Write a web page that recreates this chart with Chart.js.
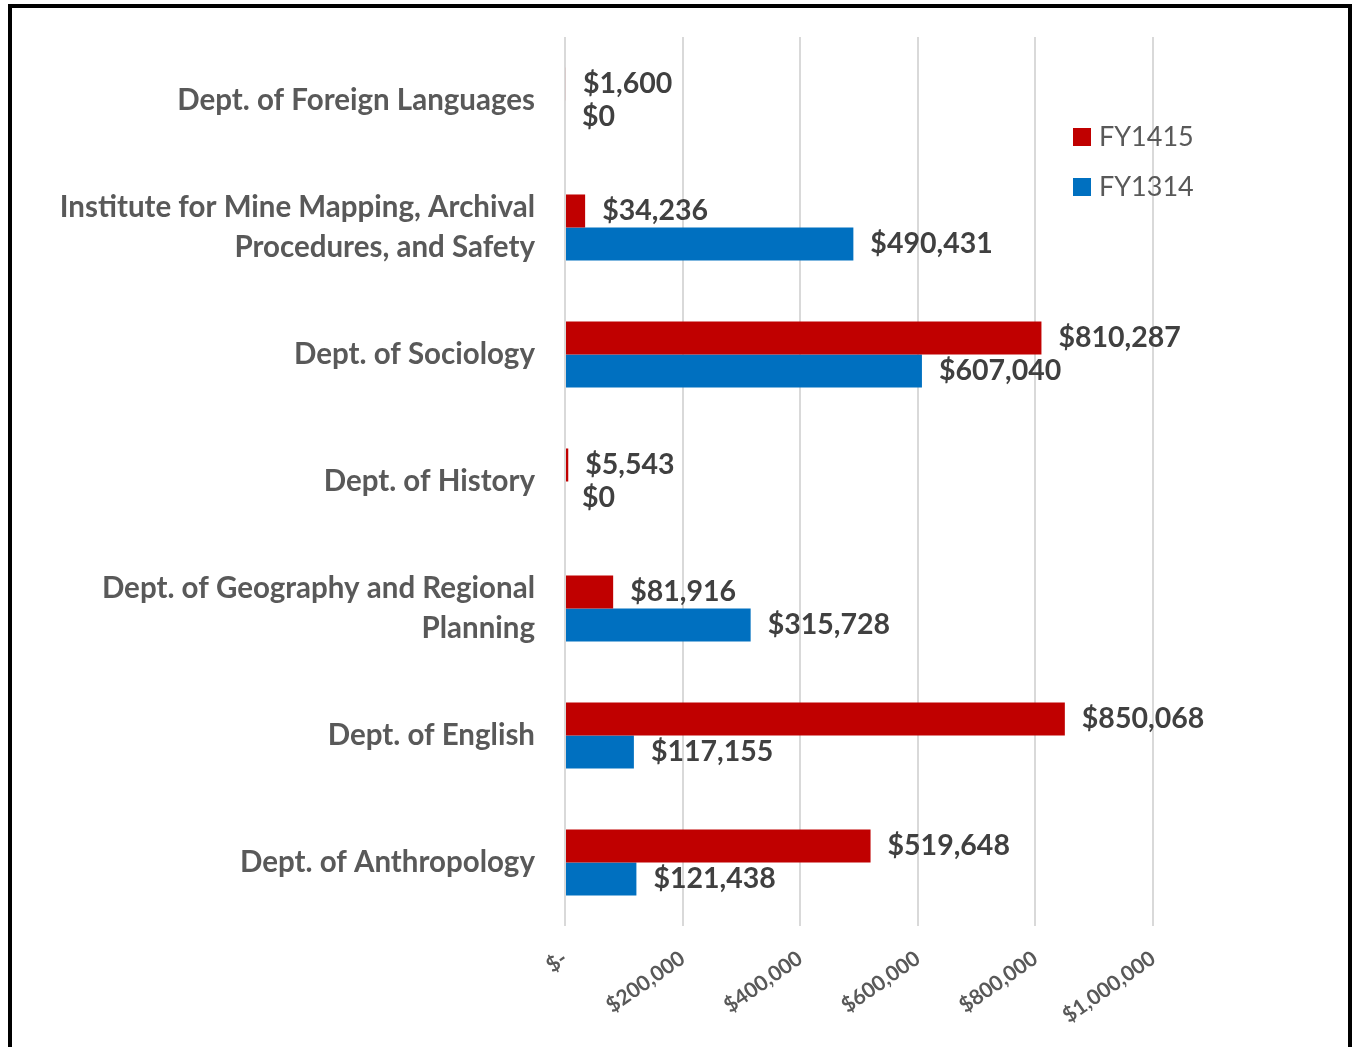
<!DOCTYPE html>
<html>
<head>
<meta charset="utf-8">
<script src="https://cdn.jsdelivr.net/npm/chart.js@4/dist/chart.umd.min.js"></script>
<style>
html,body{margin:0;padding:0;background:#fff;overflow:hidden;}
#wrap{position:relative;width:1354px;height:1047px;}
#frame{position:absolute;left:8px;top:4px;width:1336px;height:1100px;border:4px solid #000;pointer-events:none;}
</style>
</head>
<body>
<div id="wrap">
<canvas id="c" width="1354" height="1047"></canvas>
<div id="frame"></div>
</div>
<script>
const categories = [
  'Dept. of Foreign Languages',
  ['Institute for Mine Mapping, Archival', 'Procedures, and Safety'],
  'Dept. of Sociology',
  'Dept. of History',
  ['Dept. of Geography and Regional', 'Planning'],
  'Dept. of English',
  'Dept. of Anthropology'
];
const seriesNames = ['FY1415', 'FY1314'];
const fy1415 = [1600, 34236, 810287, 5543, 81916, 850068, 519648];
const fy1314 = [0, 490431, 607040, 0, 315728, 117155, 121438];
const tickValues = [0, 200000, 400000, 600000, 800000, 1000000];
const colors = ['#C00000', '#0070C0'];

const FONT = 'Lato, "Open Sans", sans-serif';
function money(v){ return '$' + Math.round(v).toLocaleString('en-US'); }

const labelPlugin = {
  id: 'valueLabels',
  afterDatasetsDraw(chart){
    const ctx = chart.ctx;
    ctx.save();
    ctx.font = 'bold 28.5px ' + FONT;
    ctx.fillStyle = '#404040';
    ctx.textAlign = 'left';
    ctx.textBaseline = 'middle';
    chart.data.datasets.forEach((ds, di) => {
      const meta = chart.getDatasetMeta(di);
      meta.data.forEach((el, i) => {
        ctx.fillText(money(ds.data[i]), el.x + 17, el.y);
      });
    });
    ctx.restore();
  }
};

const legendPlugin = {
  id: 'customLegend',
  afterDraw(chart){
    const ctx = chart.ctx;
    const a = chart.chartArea;
    const x = a.right - 80;
    ctx.save();
    ctx.font = '27px ' + FONT;
    ctx.textBaseline = 'middle';
    ctx.textAlign = 'left';
    chart.data.datasets.forEach((ds, i) => {
      const y = a.top + 100 + i * 50;
      ctx.fillStyle = ds.backgroundColor;
      ctx.fillRect(x, y - 9, 18, 18);
      ctx.fillStyle = '#595959';
      ctx.fillText(ds.label, x + 26, y);
    });
    ctx.restore();
  }
};

new Chart(document.getElementById('c'), {
  type: 'bar',
  data: {
    labels: categories,
    datasets: [
      { label: seriesNames[0], data: fy1415, backgroundColor: colors[0] },
      { label: seriesNames[1], data: fy1314, backgroundColor: colors[1] }
    ]
  },
  options: {
    indexAxis: 'y',
    responsive: false,
    animation: false,
    maintainAspectRatio: false,
    layout: { padding: { top: 37, right: 201, bottom: 0, left: 0 } },
    categoryPercentage: 0.52,
    barPercentage: 1.0,
    plugins: { legend: { display: false }, tooltip: { enabled: false } },
    scales: {
      x: {
        min: 0, max: 1000000,
        afterBuildTicks(scale){ scale.ticks = tickValues.map(v => ({ value: v })); },
        afterFit(scale){ scale.height = 121; scale.paddingLeft = 0; scale.paddingRight = 0; },
        grid: { color: '#d9d9d9', lineWidth: 2, drawTicks: false },
        border: { display: false },
        ticks: {
          minRotation: 35, maxRotation: 35, padding: 20,
          color: '#595959',
          font: { family: FONT, size: 21, weight: 'bold' },
          callback(v){ return v === 0 ? '$-' : '$' + v.toLocaleString('en-US'); }
        }
      },
      y: {
        afterFit(scale){ scale.width = 565; scale.paddingTop = 0; scale.paddingBottom = 0; },
        grid: { display: false, drawTicks: false },
        border: { display: false },
        ticks: {
          padding: 30,
          color: '#595959',
          font: { family: FONT, size: 29.5, weight: 'bold', lineHeight: 1.35 }
        }
      }
    }
  },
  plugins: [labelPlugin, legendPlugin]
});
</script>
</body>
</html>
